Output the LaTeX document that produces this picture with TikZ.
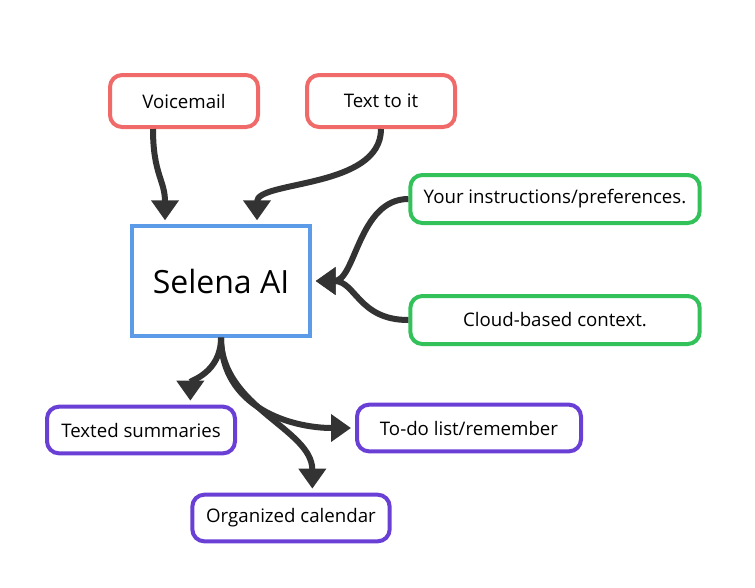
\documentclass[tikz,border=0pt]{standalone}
\usepackage{fontspec}
\setmainfont{Open Sans}
\usetikzlibrary{arrows.meta}
\definecolor{boxred}{HTML}{F06A6A}
\definecolor{boxblue}{HTML}{5B9BE8}
\definecolor{boxgreen}{HTML}{33C25A}
\definecolor{boxpurple}{HTML}{6A3FD6}
\definecolor{arrowgray}{HTML}{333333}
\tikzset{
  box/.style={draw, line width=3pt, rounded corners=9pt, fill=white, font=\fontsize{14}{16}\selectfont, inner sep=0pt},
  redbox/.style={box, draw=boxred, minimum width=111pt, minimum height=39pt},
  greenbox/.style={box, draw=boxgreen, minimum width=217pt, minimum height=36pt},
  purplebox/.style={box, draw=boxpurple, minimum height=35pt},
  mainbox/.style={draw=boxblue, line width=3pt, minimum width=133pt, minimum height=82pt, font=\fontsize{24}{28}\selectfont},
  flow/.style={draw=arrowgray, line width=4.5pt, -{Triangle[length=15pt, width=20pt]}}
}
\begin{document}
\begin{tikzpicture}[x=0.75pt, y=-0.75pt]
  \useasboundingbox (0,0) rectangle (755,587);
  % inputs
  \node[redbox] (voice) at (184,101) {Voicemail};
  \node[redbox] (text) at (381,101) {Text to it};
  \node[mainbox] (selena) at (221,281) {Selena AI};
  \node[greenbox] (instr) at (555,199) {Your instructions/preferences.};
  \node[greenbox] (cloud) at (555,320) {Cloud-based context.};
  % outputs
  \node[purplebox, minimum width=141pt] (summ) at (141,430) {Texted summaries};
  \node[purplebox, minimum width=168pt] (todo) at (469,428) {To-do list/remember};
  \node[purplebox, minimum width=148pt] (cal) at (291,518) {Organized calendar};

  \draw[flow] (voice.south west) ++(45,0) .. controls +(0,45) and +(0,-40) .. ([xshift=-42pt,yshift=3pt]selena.north);
  \draw[flow] (text.south) .. controls +(0,60) and +(0,-40) .. ([xshift=27pt,yshift=3pt]selena.north);
  \draw[flow] (instr.west) .. controls +(-50,0) and +(40,0) .. ([xshift=3pt]selena.east);
  \draw[flow] (cloud.west) .. controls +(-50,0) and +(40,0) .. ([xshift=3pt]selena.east);
  \draw[flow] (selena.south) .. controls +(0,35) and +(0,-20) .. ([xshift=37pt,yshift=3pt]summ.north);
  \draw[flow] (selena.south) .. controls +(0,70) and +(-60,0) .. ([xshift=-3pt]todo.west);
  \draw[flow] (selena.south) .. controls +(0,70) and +(0,-60) .. ([xshift=16pt,yshift=3pt]cal.north);
\end{tikzpicture}
\end{document}
